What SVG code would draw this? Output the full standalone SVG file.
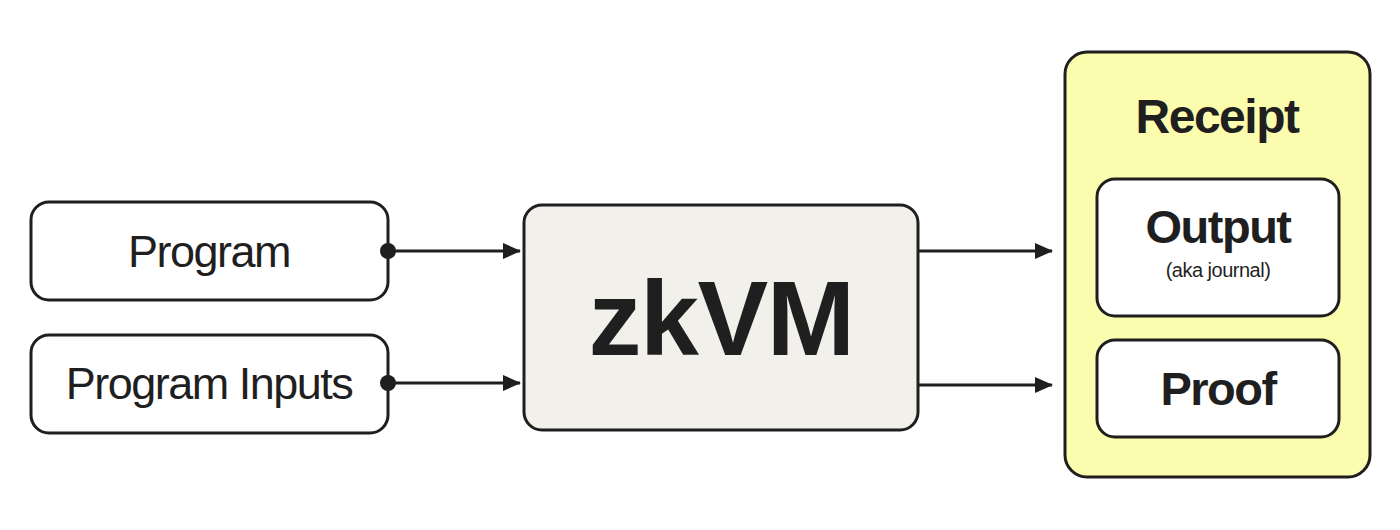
<svg xmlns="http://www.w3.org/2000/svg" width="1400" height="530" viewBox="0 0 1400 530">
<style>
.box{stroke:#1f1f1f;stroke-width:3;fill:#fff}
.c{stroke:#1f1f1f;stroke-width:3;fill:none}
text{font-family:"Liberation Sans",Arial,sans-serif;fill:#1f1f1f;text-anchor:middle}
.lt{font-size:45px;letter-spacing:-1.5px}
.b{font-weight:bold;letter-spacing:-1.5px}
</style>
<defs>
<marker id="ah2" markerWidth="18" markerHeight="16" refX="17" refY="8" orient="auto" markerUnits="userSpaceOnUse">
<path d="M0,0 L18,8 L0,16 Z" fill="#1f1f1f"/>
</marker>
</defs>
<rect width="1400" height="530" fill="#fff"/>
<g id="program"><rect class="box" x="31" y="202" width="357" height="98" rx="18"/><text class="lt" x="209" y="267">Program</text></g>
<g id="inputs"><rect class="box" x="31" y="335" width="357" height="98" rx="18"/><text class="lt" x="209" y="399">Program Inputs</text></g>
<g id="zkvm"><rect class="box" x="524" y="205" width="394" height="225" rx="18" style="fill:#f2f0eb"/><text class="b" x="721" y="355" font-size="106">zkVM</text></g>
<g id="receipt"><rect class="box" x="1065" y="52" width="305" height="425" rx="22" style="fill:#fcfcae"/><text class="b" x="1217" y="133" font-size="48">Receipt</text>
<g id="output"><rect class="box" x="1097" y="179" width="242" height="137" rx="18"/><text class="b" x="1218" y="243" font-size="47">Output</text><text x="1218" y="277" font-size="20" letter-spacing="-0.5">(aka journal)</text></g>
<g id="proof"><rect class="box" x="1097" y="340" width="242" height="97" rx="18"/><text class="b" x="1218" y="405" font-size="47">Proof</text></g>
</g>
<g id="connectors">
<circle cx="388" cy="251" r="8" fill="#1f1f1f"/><circle cx="388" cy="383" r="8" fill="#1f1f1f"/>
<path class="c" d="M388,251 H520" marker-end="url(#ah2)"/>
<path class="c" d="M388,383 H520" marker-end="url(#ah2)"/>
<path class="c" d="M918,251 H1052" marker-end="url(#ah2)"/>
<path class="c" d="M918,385 H1052" marker-end="url(#ah2)"/>
</g>
</svg>
